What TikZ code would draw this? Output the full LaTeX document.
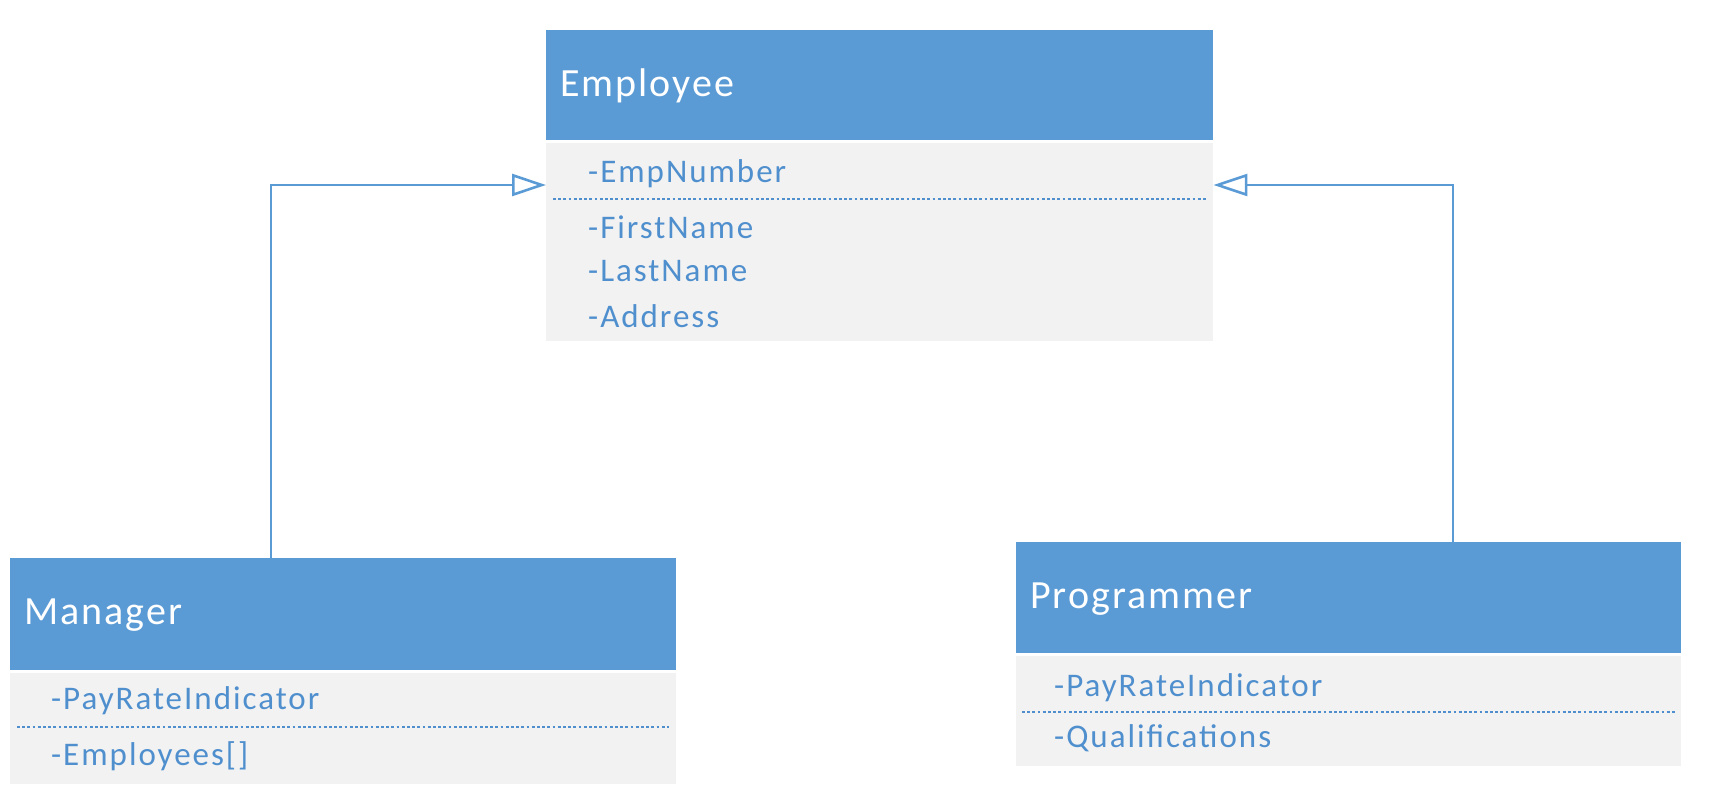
\documentclass[tikz,border=0pt]{standalone}
\usepackage{fontspec}
\setmainfont{Carlito}
\newfontfamily\titlefont[LetterSpace=5]{Carlito}
\newfontfamily\attrfont[LetterSpace=6]{Carlito}
\usetikzlibrary{arrows.meta}
\definecolor{hdr}{HTML}{5B9BD5}
\definecolor{bdy}{HTML}{F2F2F2}
\definecolor{txt}{HTML}{4F8FCE}
\begin{document}
\begin{tikzpicture}[x=1pt,y=-1pt,
  head/.style={fill=hdr,draw=none,inner sep=0pt,anchor=north west},
  body/.style={fill=bdy,draw=none,inner sep=0pt,anchor=north west},
  title/.style={anchor=west,text=white,font=\titlefont\fontsize{40}{44}\selectfont,inner sep=0pt},
  attr/.style={anchor=west,text=txt,font=\attrfont\fontsize{33}{38}\selectfont,inner sep=0pt},
  sep/.style={draw=txt,line width=2.8pt,dash pattern=on 2.8pt off 2.4pt},
  inh/.style={draw=hdr,line width=2.8pt,-{Triangle[open,length=34pt,width=22pt,line width=2.6pt]}}]
\useasboundingbox (0,0) rectangle (1716,810);
% Employee
\node[head,minimum width=667pt,minimum height=110pt] (emphead) at (546,30) {};
\node[body,minimum width=667pt,minimum height=198pt] (empbody) at (546,143) {};
\node[title] (emptitle) at (560,86) {Employee};
\node[attr] (a1) at (588,174) {-EmpNumber};
\draw[sep] (553,199) coordinate (es1) -- (1206,199) coordinate (es2);
\node[attr] (a2) at (588,227) {-FirstName};
\node[attr] (a3) at (588,271) {-LastName};
\node[attr] (a4) at (588,316) {-Address};
% Manager
\node[head,minimum width=666pt,minimum height=112pt] (mgrhead) at (10,558) {};
\node[body,minimum width=666pt,minimum height=111pt] (mgrbody) at (10,673) {};
\node[title] (mgrtitle) at (24,615) {Manager};
\node[attr] (m1) at (51,701) {-PayRateIndicator};
\draw[sep] (17,727) coordinate (ms1) -- (669,727) coordinate (ms2);
\node[attr] (m2) at (51,756) {-Employees[]};
% Programmer
\node[head,minimum width=665pt,minimum height=111pt] (prghead) at (1016,542) {};
\node[body,minimum width=665pt,minimum height=110pt] (prgbody) at (1016,656) {};
\node[title] (prgtitle) at (1030,599) {Programmer};
\node[attr] (p1) at (1054,688) {-PayRateIndicator};
\draw[sep] (1022,712) coordinate (ps1) -- (1675,712) coordinate (ps2);
\node[attr] (p2) at (1054,738) {-Qualifications};
% connectors
\coordinate (mtop) at (mgrhead.north -| 271,0);
\coordinate (ptop) at (prghead.north -| 1453,0);
\coordinate (ein) at (emphead.south west |- 0,185);
\coordinate (eout) at (emphead.south east |- 0,185);
\draw[inh] (mtop) |- (ein);
\draw[inh] (ptop) |- (eout);
\end{tikzpicture}
\end{document}
